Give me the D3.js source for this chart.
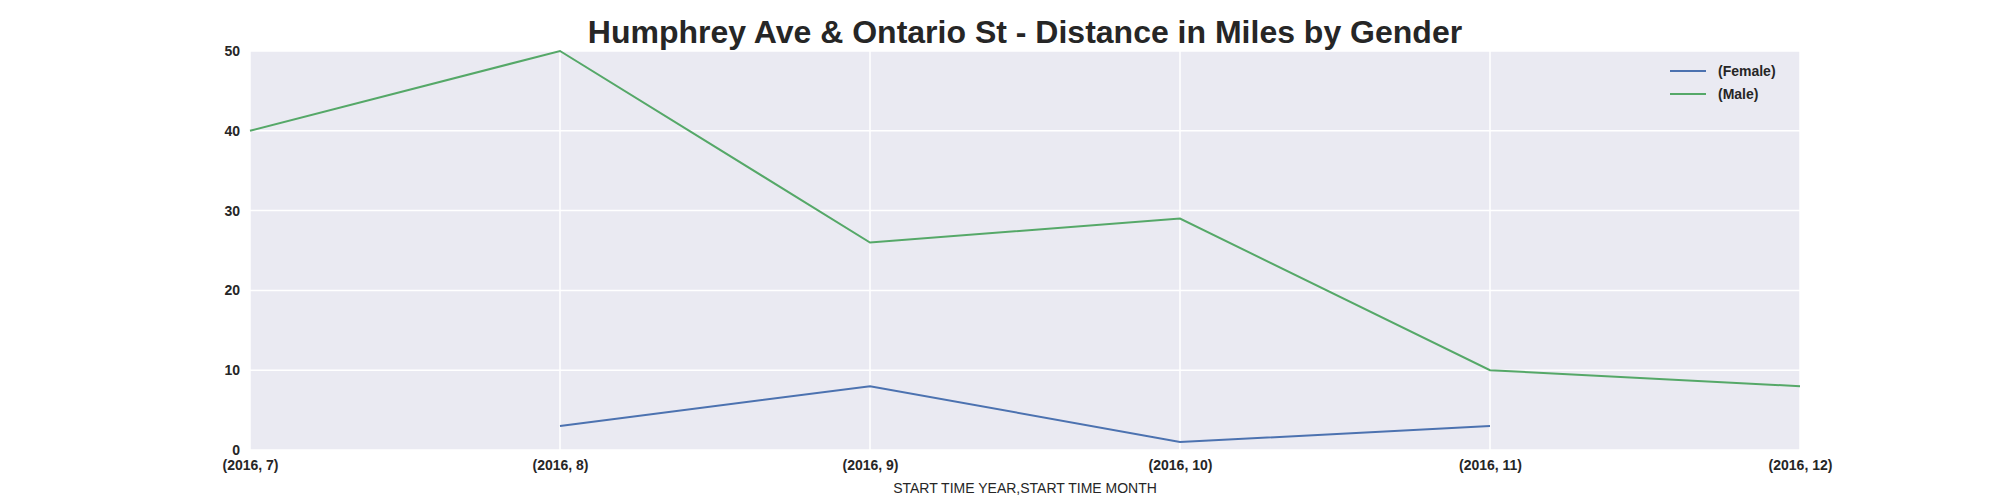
<!DOCTYPE html>
<html><head><meta charset="utf-8">
<script src="https://cdn.jsdelivr.net/npm/d3@7"></script>
<style>body{margin:0;background:#fff}</style>
</head><body><div id="chart"></div>
<script>
const months = ["(2016, 7)", "(2016, 8)", "(2016, 9)", "(2016, 10)", "(2016, 11)", "(2016, 12)"];
const female = [null, 3, 8, 1, 3, null];
const male = [40, 50, 26, 29, 10, 8];
const yTicks = [0, 10, 20, 30, 40, 50];
const seriesNames = ["(Female)", "(Male)"];
const colors = ["#4c72b0", "#55a868"];

const width = 2000, height = 500;
const m = {left: 250, right: 200, top: 51, bottom: 50};
const font = "Arial, 'Liberation Sans', sans-serif";

const svg = d3.select("#chart").append("svg").attr("width", width).attr("height", height)
  .style("font-family", font);

const x = d3.scalePoint().domain(months).range([m.left, width - m.right]);
const y = d3.scaleLinear().domain([0, 50]).range([height - m.bottom, m.top]);

svg.append("rect").attr("x", m.left).attr("y", m.top)
  .attr("width", width - m.left - m.right).attr("height", height - m.top - m.bottom)
  .attr("fill", "#eaeaf2");

// grid
svg.append("g").selectAll("line").data(yTicks).enter().append("line")
  .attr("x1", m.left).attr("x2", width - m.right)
  .attr("y1", d => y(d)).attr("y2", d => y(d))
  .attr("stroke", "#fff").attr("stroke-width", 1.5);
svg.append("g").selectAll("line").data(months).enter().append("line")
  .attr("x1", d => x(d)).attr("x2", d => x(d))
  .attr("y1", m.top).attr("y2", height - m.bottom)
  .attr("stroke", "#fff").attr("stroke-width", 1.5);

const xAxis = svg.append("g").attr("transform", `translate(0,${height - m.bottom})`)
  .call(d3.axisBottom(x).tickSize(0).tickPadding(10));
const yAxis = svg.append("g").attr("transform", `translate(${m.left},0)`)
  .call(d3.axisLeft(y).tickValues(yTicks).tickSize(0).tickPadding(10));
[xAxis, yAxis].forEach(a => {
  a.select(".domain").remove();
  a.selectAll("text").style("font-family", font).style("font-size", "14px")
    .style("font-weight", "bold").attr("fill", "#262626");
});

const line = d3.line().defined(d => d.v != null).x(d => x(d.k)).y(d => y(d.v));
[female, male].forEach((s, i) => {
  svg.append("path").datum(s.map((v, j) => ({k: months[j], v})))
    .attr("d", line).attr("fill", "none").attr("stroke", colors[i]).attr("stroke-width", 2);
});

const lg = svg.append("g").attr("transform", "translate(1670,71)");
seriesNames.forEach((n, i) => {
  lg.append("line").attr("x1", 0).attr("x2", 36).attr("y1", i * 23).attr("y2", i * 23)
    .attr("stroke", colors[i]).attr("stroke-width", 2);
  lg.append("text").attr("x", 48).attr("y", i * 23 + 5).text(n)
    .style("font-size", "14px").style("font-weight", "bold").attr("fill", "#262626");
});

svg.append("text").attr("x", (m.left + width - m.right) / 2).attr("y", 43)
  .attr("text-anchor", "middle").style("font-size", "32px").style("font-weight", "bold")
  .attr("fill", "#262626").text("Humphrey Ave & Ontario St - Distance in Miles by Gender");
svg.append("text").attr("x", (m.left + width - m.right) / 2).attr("y", 493)
  .attr("text-anchor", "middle").style("font-size", "14px")
  .attr("fill", "#262626").text("START TIME YEAR,START TIME MONTH");
</script></body></html>
